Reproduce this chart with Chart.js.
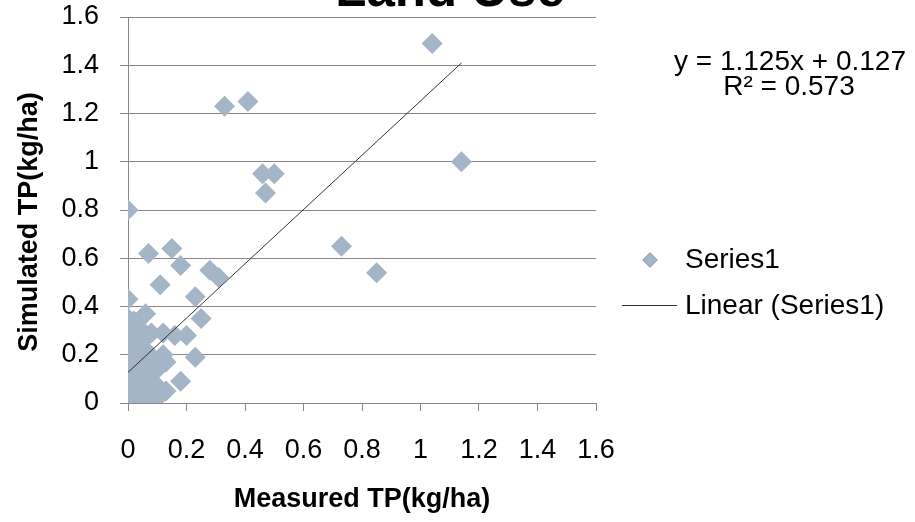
<!DOCTYPE html>
<html>
<head>
<meta charset="utf-8">
<script src="https://cdn.jsdelivr.net/npm/chart.js@4.4.0/dist/chart.umd.min.js"></script>
<style>
  html, body { margin: 0; padding: 0; background: #fff; }
  #chart { display: block; }
</style>
</head>
<body>
<canvas id="chart" width="915" height="522"></canvas>
<script>
// Measured vs simulated total phosphorus (kg/ha)
const measured = [
  1.04, 1.14, 0.33, 0.41, 0.46, 0.50, 0.47, 0.73, 0.85, 0.00,
  0.15, 0.07, 0.18, 0.28, 0.31, 0.11, 0.23, 0.00, 0.25, 0.06,
  0.08, 0.12, 0.16, 0.20, 0.23, 0.13, 0.12, 0.18, 0.13,
  0.00, 0.00, 0.00, 0.00, 0.00, 0.00, 0.00, 0.00, 0.00, 0.00,
  0.02, 0.02, 0.02, 0.02, 0.02, 0.02, 0.02, 0.02, 0.02,
  0.04, 0.04, 0.04, 0.04, 0.04, 0.04, 0.04, 0.04,
  0.06, 0.06, 0.06, 0.06, 0.06, 0.06,
  0.08, 0.08, 0.08, 0.08,
  0.10, 0.10, 0.10
];
const simulated = [
  1.49, 1.00, 1.23, 1.25, 0.95, 0.95, 0.87, 0.65, 0.54, 0.80,
  0.64, 0.62, 0.57, 0.55, 0.52, 0.49, 0.44, 0.43, 0.35, 0.37,
  0.29, 0.29, 0.28, 0.28, 0.19, 0.17, 0.20, 0.09, 0.05,
  0.00, 0.04, 0.08, 0.12, 0.16, 0.20, 0.24, 0.28, 0.32, 0.35,
  0.02, 0.06, 0.10, 0.14, 0.18, 0.22, 0.26, 0.30, 0.34,
  0.00, 0.05, 0.09, 0.13, 0.17, 0.21, 0.25, 0.31,
  0.01, 0.06, 0.11, 0.16, 0.22, 0.27,
  0.03, 0.08, 0.12, 0.19,
  0.02, 0.07, 0.14
];
const tickLabels = ['0', '0.2', '0.4', '0.6', '0.8', '1', '1.2', '1.4', '1.6'];

// linear trendline y = a*x + b over the measured range
const trendSlope = 1.125;
const trendIntercept = 0.127;
const rSquared = 0.573;
const trendRange = [0, 1.14];

const FONT = 'Arial, "Liberation Sans", sans-serif';
const GRID = '#878787';
const MARKER = '#a3b5c7';

const points = measured.map((x, i) => ({ x: x, y: simulated[i] }));
const trend = trendRange.map(x => ({ x: x, y: trendSlope * x + trendIntercept }));

function tickText(value) {
  const label = tickLabels[Math.round(value / 0.2)];
  return label === undefined ? '' : label;
}

// title, y title, equation and legend
const annotations = {
  id: 'annotations',
  afterDraw(chart) {
    const ctx = chart.ctx;
    ctx.save();
    ctx.fillStyle = '#000';
    ctx.textAlign = 'center';

    // title is pushed up past the top edge
    ctx.font = 'bold 51px ' + FONT;
    ctx.textBaseline = 'alphabetic';
    ctx.fillText('Land Use', 450, 6);

    ctx.save();
    ctx.translate(30, 222);
    ctx.rotate(-Math.PI / 2);
    ctx.font = 'bold 27px ' + FONT;
    ctx.textBaseline = 'middle';
    ctx.fillText('Simulated TP(kg/ha)', 0, 0);
    ctx.restore();

    ctx.font = '28px ' + FONT;
    ctx.textBaseline = 'middle';
    ctx.fillText('y = ' + trendSlope + 'x + ' + trendIntercept, 790, 62);
    ctx.fillText('R\u00b2 = ' + rSquared, 789, 87);

    // legend
    ctx.textAlign = 'left';
    Chart.helpers.drawPoint(ctx, {
      pointStyle: 'rectRot', radius: 7.5, borderWidth: 0, rotation: 0
    }, 650, 260);
    ctx.fillStyle = MARKER;
    ctx.fill();
    ctx.fillStyle = '#000';
    ctx.fillText('Series1', 685, 260);

    ctx.strokeStyle = '#333';
    ctx.lineWidth = 1;
    ctx.beginPath();
    ctx.moveTo(622, 305.5);
    ctx.lineTo(677, 305.5);
    ctx.stroke();
    ctx.fillText('Linear (Series1)', 685, 306);
    ctx.restore();
  }
};

new Chart(document.getElementById('chart'), {
  type: 'scatter',
  data: {
    datasets: [
      {
        label: 'Linear (Series1)',
        type: 'line',
        data: trend,
        borderColor: '#333',
        borderWidth: 1,
        pointRadius: 0,
        fill: false,
        order: 0
      },
      {
        label: 'Series1',
        data: points,
        pointStyle: 'rectRot',
        pointRadius: 10.5,
        pointHoverRadius: 10.5,
        backgroundColor: MARKER,
        borderWidth: 0,
        order: 1
      }
    ]
  },
  options: {
    responsive: false,
    animation: false,
    devicePixelRatio: 1,
    layout: { padding: { left: 0, top: 17, right: 319, bottom: 0 } },
    plugins: {
      legend: { display: false },
      tooltip: { enabled: false },
      title: { display: false }
    },
    scales: {
      x: {
        type: 'linear',
        min: 0,
        max: 1.6,
        afterFit: s => { s.height = 119; s.paddingLeft = 0; s.paddingRight = 0; },
        ticks: {
          stepSize: 0.2,
          callback: tickText,
          autoSkip: false,
          maxRotation: 0,
          padding: 23,
          color: '#000',
          font: { size: 27, family: FONT }
        },
        grid: { drawOnChartArea: false, color: GRID, tickLength: 8 },
        border: { color: GRID },
        title: {
          display: true,
          text: 'Measured TP(kg/ha)',
          color: '#000',
          font: { size: 27, weight: 'bold', family: FONT },
          padding: { top: 0, bottom: 6 }
        }
      },
      y: {
        min: 0,
        max: 1.6,
        afterFit: s => { s.width = 128; s.paddingTop = 0; s.paddingBottom = 0; },
        ticks: {
          stepSize: 0.2,
          callback: tickText,
          padding: 21,
          color: '#000',
          font: { size: 27, family: FONT }
        },
        grid: { color: GRID, tickLength: 8 },
        border: { color: GRID }
      }
    }
  },
  plugins: [annotations]
});
</script>
</body>
</html>
